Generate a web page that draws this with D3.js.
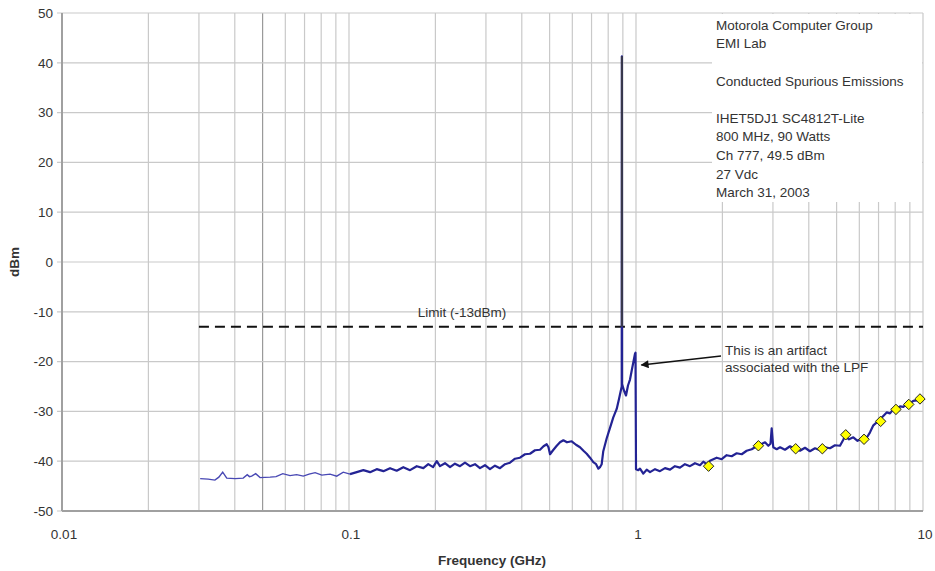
<!DOCTYPE html>
<html>
<head>
<meta charset="utf-8">
<script src="https://cdn.jsdelivr.net/npm/d3@7/dist/d3.min.js"></script>
<style>
  html, body { margin: 0; padding: 0; background: #fff; }
  svg { display: block; }
  text { font-family: "Liberation Sans", Arial, sans-serif; fill: #333; }
</style>
</head>
<body>
<svg id="chart" width="935" height="571"></svg>
<script>
// Axis ticks
const freqTicks = [0.01, 0.1, 1, 10];
const dbmTicks = [50, 40, 30, 20, 10, 0, -10, -20, -30, -40, -50];

// Measured trace, [frequency GHz, level dBm]
const traceLow = [
  [0.0303, -43.5], [0.0323, -43.6], [0.0341, -43.8], [0.0352, -43.2], [0.0363, -42.2],
  [0.0375, -43.4], [0.0401, -43.5], [0.0428, -43.4], [0.0442, -42.7], [0.0450, -43.1],
  [0.0458, -43.0], [0.0473, -42.5], [0.0490, -43.3], [0.0531, -43.2], [0.0557, -43.1],
  [0.0588, -42.5], [0.0623, -42.9], [0.0657, -42.7], [0.0693, -43.0], [0.0726, -42.6],
  [0.0762, -42.3], [0.0804, -42.8], [0.0859, -42.6], [0.0906, -43.0], [0.0955, -42.2],
  [0.1008, -42.6]
];
const traceMid = [
  [0.1064, -42.2], [0.1122, -41.8], [0.1184, -42.2], [0.1249, -41.6], [0.1318, -42.0],
  [0.1390, -41.4], [0.1466, -41.9], [0.1546, -41.2], [0.1632, -41.8], [0.1722, -41.0],
  [0.1816, -41.4], [0.1889, -40.6], [0.1963, -41.2], [0.2022, -40.0], [0.2075, -41.0],
  [0.2160, -40.4], [0.2249, -41.2], [0.2340, -40.5], [0.2436, -41.0], [0.2536, -40.3],
  [0.2640, -41.0], [0.2748, -40.6], [0.2860, -41.4], [0.2977, -40.8], [0.3099, -41.6],
  [0.3226, -40.9], [0.3358, -41.4], [0.3496, -40.6], [0.3639, -40.3], [0.3788, -39.5],
  [0.3943, -39.3], [0.4104, -38.6], [0.4272, -38.5], [0.4447, -37.8], [0.4629, -37.7],
  [0.4762, -37.0], [0.4885, -36.6], [0.4955, -37.2], [0.5017, -38.6], [0.5140, -37.8],
  [0.5295, -36.9], [0.5435, -36.2], [0.5583, -35.8], [0.5748, -36.2], [0.5970, -36.0],
  [0.6180, -36.7], [0.6381, -37.2], [0.6562, -37.9], [0.6732, -38.5], [0.6915, -39.3],
  [0.7098, -40.2], [0.7260, -40.6], [0.7395, -41.5], [0.7490, -41.2], [0.7594, -40.6],
  [0.7691, -38.0], [0.7906, -35.4], [0.8118, -33.3], [0.8334, -31.2], [0.8566, -29.5],
  [0.8725, -27.5], [0.8917, -25.0], [0.8930, 41.3], [0.8940, -24.5], [0.9082, -25.8],
  [0.9230, -26.8], [0.9378, -24.8], [0.9530, -23.6], [0.9723, -21.0], [0.9920, -18.4],
  [0.9960, -18.2], [1.0000, -41.6]
];
const traceHigh = [
  [1.0186, -41.8], [1.0326, -41.5], [1.0603, -42.5], [1.0896, -41.7], [1.119, -42.2],
  [1.165, -41.6], [1.212, -42.0], [1.262, -41.4], [1.314, -41.7], [1.367, -41.0],
  [1.423, -41.3], [1.481, -40.6], [1.542, -41.0], [1.605, -40.4], [1.671, -40.8],
  [1.716, -40.1], [1.763, -40.6], [1.810, -39.9], [1.910, -39.3], [1.989, -39.6],
  [2.070, -38.8], [2.155, -39.0], [2.243, -38.4], [2.335, -38.6], [2.430, -37.9],
  [2.530, -37.6], [2.634, -37.0], [2.727, -36.6], [2.816, -36.2], [2.891, -36.9],
  [2.942, -36.5], [2.970, -33.4], [3.008, -37.2], [3.091, -37.6], [3.177, -37.2],
  [3.304, -37.7], [3.441, -37.0], [3.581, -37.6], [3.728, -37.9], [3.880, -37.3],
  [4.037, -38.0], [4.204, -37.4], [4.375, -37.8], [4.555, -37.2], [4.742, -37.4],
  [4.935, -36.8], [5.138, -36.9], [5.264, -35.8], [5.349, -35.0], [5.524, -35.6],
  [5.718, -35.2], [5.914, -35.9], [6.116, -35.5], [6.366, -35.3], [6.537, -34.2],
  [6.714, -32.8], [6.898, -32.2], [7.083, -31.6], [7.272, -30.9], [7.472, -30.2],
  [7.674, -30.4], [7.880, -29.6], [8.098, -29.5], [8.317, -29.0], [8.541, -29.1],
  [8.777, -28.5], [9.010, -28.4], [9.252, -27.9], [9.507, -27.8], [9.761, -27.4],
  [10.00, -27.1]
];

// Harmonic readings (2nd through 11th)
const harmonicGHz = [1.79, 2.67, 3.60, 4.46, 5.38, 6.23, 7.12, 8.05, 8.92, 9.76];
const harmonicDbm = [-41.0, -36.9, -37.5, -37.5, -34.7, -35.6, -32.0, -29.6, -28.6, -27.5];

// Carrier and spec limit
const carrierGHz = 0.893;
const carrierDbm = 41.3;
const limitDbm = -13;
const limitSpanGHz = [0.03, 10];
const limitLabel = "Limit (-13dBm)";

const infoLines = [
  "Motorola Computer Group", "EMI Lab", "", "Conducted Spurious Emissions", "",
  "IHET5DJ1 SC4812T-Lite", "800 MHz, 90 Watts", "Ch 777, 49.5 dBm", "27 Vdc", "March 31, 2003"
];
const noteLines = ["This is an artifact", "associated with the LPF"];
const noteAnchor = [0.995, -19.5];

const svg = d3.select("#chart");
const plotL = 62, plotR = 923, plotT = 13, plotB = 511;
const fs = 13.5;

const x = d3.scaleLog().domain([0.01, 10]).range([plotL, plotR]);
const y = d3.scaleLinear().domain([-50, 50]).range([plotB, plotT]);

// Gridlines: every 1..9 within each decade
const minor = [];
for (let k = -2; k < 1; k++) for (let m = 1; m <= 9; m++) minor.push(m * Math.pow(10, k));
minor.push(10);

const grid = svg.append("g");
grid.selectAll("line.v").data(minor).join("line")
  .attr("x1", d => x(d)).attr("x2", d => x(d))
  .attr("y1", plotT).attr("y2", plotB)
  .attr("stroke", d => Math.abs(d - 0.05) < 1e-9 ? "#9a9a9a" : "#c9c9c9")
  .attr("stroke-width", 1.2);
grid.selectAll("line.h").data(dbmTicks).join("line")
  .attr("x1", plotL - 5).attr("x2", plotR)
  .attr("y1", d => y(d)).attr("y2", d => y(d))
  .attr("stroke", "#c9c9c9").attr("stroke-width", 1.2);

// Axis lines
svg.append("line").attr("x1", plotL).attr("x2", plotL).attr("y1", plotT).attr("y2", plotB)
  .attr("stroke", "#a0a0a0").attr("stroke-width", 2);
svg.append("line").attr("x1", plotL).attr("x2", plotR).attr("y1", plotB).attr("y2", plotB)
  .attr("stroke", "#a0a0a0").attr("stroke-width", 2);

// Tick labels
svg.append("g").selectAll("text").data(dbmTicks).join("text")
  .attr("x", plotL - 9).attr("y", d => y(d)).attr("dy", "0.35em")
  .attr("text-anchor", "end").attr("font-size", fs).text(d => d);
svg.append("g").selectAll("text").data(freqTicks).join("text")
  .attr("x", d => x(d) + 2).attr("y", plotB + 28)
  .attr("text-anchor", "middle").attr("font-size", fs).text(d => d);

// Axis titles
svg.append("text").attr("x", 492).attr("y", 565).attr("text-anchor", "middle")
  .attr("font-size", fs).attr("font-weight", "bold").text("Frequency (GHz)");
svg.append("text").attr("transform", "translate(19,262) rotate(-90)")
  .attr("text-anchor", "middle").attr("font-size", fs).attr("font-weight", "bold").text("dBm");

// Info box over the upper right of the plot
const boxX = 712, boxY = 14, boxW = 210, boxH = 188;
svg.append("rect").attr("x", boxX).attr("y", boxY).attr("width", boxW).attr("height", boxH)
  .attr("fill", "#fff");
svg.append("g").selectAll("text").data(infoLines).join("text")
  .attr("x", boxX + 4).attr("y", (d, i) => 25 + i * 18.6).attr("dy", "0.35em")
  .attr("font-size", fs).text(d => d);

// Limit line
svg.append("line")
  .attr("x1", x(limitSpanGHz[0])).attr("x2", x(limitSpanGHz[1]))
  .attr("y1", y(limitDbm)).attr("y2", y(limitDbm))
  .attr("stroke", "#111").attr("stroke-width", 2).attr("stroke-dasharray", "10,6");
svg.append("text").attr("x", 462).attr("y", y(limitDbm) - 14).attr("dy", "0.35em")
  .attr("text-anchor", "middle").attr("font-size", fs).text(limitLabel);

// Trace
const line = d3.line().x(d => x(d[0])).y(d => y(d[1]));
svg.append("path").datum(traceLow).attr("d", line)
  .attr("fill", "none").attr("stroke", "#4848b4").attr("stroke-width", 1.4);
svg.append("path").datum([traceLow[traceLow.length - 1]].concat(traceMid, traceHigh)).attr("d", line)
  .attr("fill", "none").attr("stroke", "#232394").attr("stroke-width", 2.2)
  .attr("stroke-linejoin", "round");

// Carrier overlay down to the limit
svg.append("line")
  .attr("x1", x(carrierGHz)).attr("x2", x(carrierGHz))
  .attr("y1", y(carrierDbm)).attr("y2", y(limitDbm))
  .attr("stroke", "#3a3a4a").attr("stroke-width", 2);

// Harmonic markers
const harmonics = harmonicGHz.map((f, i) => [f, harmonicDbm[i]]);
const r = 5.2;
svg.append("g").selectAll("path").data(harmonics).join("path")
  .attr("d", d => {
    const cx = x(d[0]), cy = y(d[1]);
    return `M${cx},${cy - r}L${cx + r},${cy}L${cx},${cy + r}L${cx - r},${cy}Z`;
  })
  .attr("fill", "#ffff00").attr("stroke", "#222").attr("stroke-width", 1);

// Annotation with arrow
const defs = svg.append("defs");
defs.append("marker").attr("id", "arrowhead").attr("viewBox", "0 0 10 10")
  .attr("refX", 9).attr("refY", 5).attr("markerWidth", 9).attr("markerHeight", 8)
  .attr("markerUnits", "userSpaceOnUse").attr("orient", "auto")
  .append("path").attr("d", "M0,0L10,5L0,10Z").attr("fill", "#111");
svg.append("line")
  .attr("x1", 721).attr("y1", 356)
  .attr("x2", x(noteAnchor[0]) + 6).attr("y2", 365)
  .attr("stroke", "#111").attr("stroke-width", 1.5)
  .attr("marker-end", "url(#arrowhead)");
svg.append("g").selectAll("text").data(noteLines).join("text")
  .attr("x", 725).attr("y", (d, i) => 350 + i * 17).attr("dy", "0.35em")
  .attr("font-size", fs).text(d => d);
</script>
</body>
</html>
